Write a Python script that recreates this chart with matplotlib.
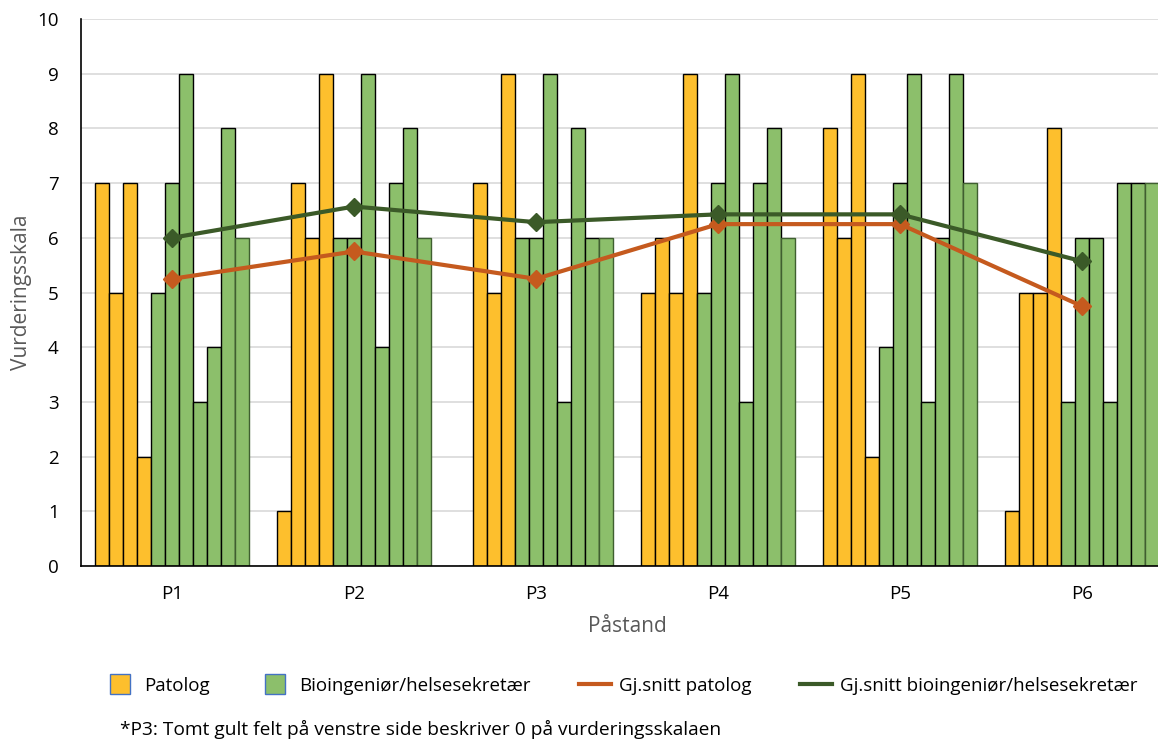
import matplotlib
matplotlib.use("Agg")
import matplotlib.pyplot as plt
from matplotlib.lines import Line2D
import numpy as np

plt.rcParams['font.family'] = ['Open Sans', 'DejaVu Sans']

# Påstander og svar (vurderingsskala 0-10), én liste per respondent i hver påstand
categories = ['P1', 'P2', 'P3', 'P4', 'P5', 'P6']
patolog = [
    [7, 5, 7, 2],
    [1, 7, 6, 9],
    [0, 7, 5, 9],
    [5, 6, 5, 9],
    [8, 6, 9, 2],
    [1, 5, 5, 8],
]
bioingenior = [
    [5, 7, 9, 3, 4, 8, 6],
    [6, 6, 9, 4, 7, 8, 6],
    [6, 6, 9, 3, 8, 6, 6],
    [5, 7, 9, 3, 7, 8, 6],
    [4, 7, 9, 3, 6, 9, 7],
    [3, 6, 6, 3, 7, 7, 7],
]
yticks = list(range(0, 11))

yellow = '#FDBF2D'
green = '#8CBF6B'
orange = '#C55A1E'
darkgreen = '#3B5A28'

fig = plt.figure(figsize=(11.58, 7.42), dpi=100)
# aksen går litt forbi høyre kant
ax = fig.add_axes([81 / 1158, 176 / 742, 1092 / 1158, 547 / 742])

n_pat = len(patolog[0])
n_bio = len(bioingenior[0])
n_bars = n_pat + n_bio
w = 154 / 182 / n_bars
x = np.arange(len(categories))

for j in range(n_bars):
    off = (j - (n_bars - 1) / 2) * w
    if j < n_pat:
        vals = [g[j] for g in patolog]
        ax.bar(x + off, vals, width=w, color=yellow, edgecolor='black', linewidth=1, zorder=2)
    else:
        vals = [g[j - n_pat] for g in bioingenior]
        ec = '#3F5F30' if j == n_bars - 1 else 'black'
        ax.bar(x + off, vals, width=w, color=green, edgecolor=ec, linewidth=1, zorder=2)

pat_mean = [np.mean(g) for g in patolog]
bio_mean = [np.mean(g) for g in bioingenior]
ax.plot(x, pat_mean, color=orange, lw=3, marker='D', ms=9, zorder=4)
ax.plot(x, bio_mean, color=darkgreen, lw=3, marker='D', ms=9, zorder=4)

ax.set_xlim(-0.5, len(categories) - 0.5)
ax.set_ylim(0, 10)
ax.set_yticks(yticks)
ax.set_xticks(x)
ax.set_xticklabels(categories)
ax.tick_params(length=0, labelsize=13.5, colors='black')
ax.tick_params(axis='x', pad=14)
ax.tick_params(axis='y', pad=16)
ax.grid(axis='y', color='#D9D9D9', lw=1.2, zorder=0)
ax.set_axisbelow(True)
for s in ['top', 'right']:
    ax.spines[s].set_visible(False)
ax.spines['left'].set_color('black')
ax.spines['bottom'].set_color('black')
ax.spines['left'].set_linewidth(1.2)
ax.spines['bottom'].set_linewidth(1.2)

ax.set_ylabel('Vurderingsskala', fontsize=15, color='#595959', labelpad=4)
fig.text(627 / 1158, 1 - 627 / 742, 'Påstand', fontsize=15, color='#595959', ha='center', va='center')

# kvadratiske symboler for søylene, korte linjer for snittene
handles = [
    Line2D([], [], ls='none', marker='s', ms=15, mfc=yellow, mec='#4472C4', mew=1),
    Line2D([], [], ls='none', marker='s', ms=15, mfc=green, mec='#4472C4', mew=1),
    Line2D([], [], color=orange, lw=3),
    Line2D([], [], color=darkgreen, lw=3),
]
labels = ['Patolog', 'Bioingeniør/helsesekretær', 'Gj.snitt patolog', 'Gj.snitt bioingeniør/helsesekretær']
fig.legend(handles, labels, loc='center', bbox_to_anchor=(621 / 1158, 1 - 686 / 742), ncol=4,
           frameon=False, fontsize=13.5, handlelength=1.7, columnspacing=2.6,
           handletextpad=0.43, borderpad=0, borderaxespad=0)

fig.text(120 / 1158, 1 - 729 / 742, '*P3: Tomt gult felt på venstre side beskriver 0 på vurderingsskalaen',
         fontsize=13.8, color='black', ha='left', va='center')

fig.savefig('out.png', dpi=100)
